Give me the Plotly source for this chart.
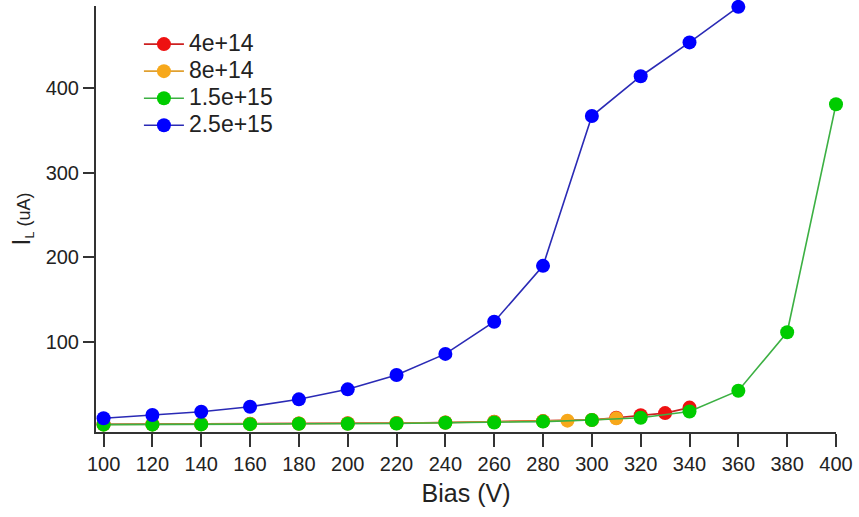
import plotly.graph_objects as go

# Bias voltage (V) for each fluence series
bias_4e14 = [100, 120, 140, 160, 180, 200, 220, 240, 260, 280, 300, 310, 320, 330, 340]
bias_8e14 = [100, 120, 140, 160, 180, 200, 220, 240, 260, 280, 290, 300, 310]
bias_1p5e15 = [100, 120, 140, 160, 180, 200, 220, 240, 260, 280, 300, 320, 340, 360, 380, 400]
bias_2p5e15 = [100, 120, 140, 160, 180, 200, 220, 240, 260, 280, 300, 320, 340, 360]

# Leakage current I_L (uA)
il_4e14 = [2.8, 2.9, 3.1, 3.4, 3.8, 4.0, 4.3, 5.0, 5.8, 6.6, 8.0, 10.6, 13.5, 16.0, 22.5]
il_8e14 = [2.6, 2.7, 2.9, 3.2, 3.6, 3.8, 4.1, 4.8, 5.6, 6.4, 7.1, 7.8, 9.8]
il_1p5e15 = [2.4, 2.4, 2.7, 3.0, 3.5, 3.5, 3.7, 4.7, 5.0, 6.0, 7.8, 10.5, 18.0, 42.5, 111.5, 381]
il_2p5e15 = [9.9, 13.8, 17.7, 23.6, 32.3, 44.1, 61, 86, 124, 190, 367, 414, 454, 496]

series = [
    ("4e+14", bias_4e14, il_4e14, "#ee1111", "#cc2020"),
    ("8e+14", bias_8e14, il_8e14, "#f7a81b", "#e0a030"),
    ("1.5e+15", bias_1p5e15, il_1p5e15, "#00cc00", "#3cb043"),
    ("2.5e+15", bias_2p5e15, il_2p5e15, "#0000ff", "#2a2ab5"),
]

font_family = "Liberation Sans, Arial, sans-serif"
ink = "#222222"

fig = go.Figure()
for name, x, y, mcolor, lcolor in series:
    fig.add_trace(go.Scatter(
        x=x, y=y, mode="lines+markers",
        # legend rows are spaced by the legend font; entry text drawn larger
        name=f"<span style='font-size:23px'>{name}</span>",
        line=dict(color=lcolor, width=1.6),
        marker=dict(color=mcolor, size=14),
        cliponaxis=False,
    ))

fig.update_layout(
    width=859, height=517,
    margin=dict(l=96, r=20, t=6, b=85),
    paper_bgcolor="white", plot_bgcolor="white",
    font=dict(family=font_family, color=ink, size=20),
    showlegend=True,
    legend=dict(
        x=0.058, y=0.954, xanchor="left", yanchor="top",
        font=dict(size=18.5, color=ink),
        bgcolor="rgba(0,0,0,0)", itemwidth=40, tracegroupgap=0,
    ),
    xaxis=dict(
        range=[96.9, 400],
        tickvals=list(range(100, 401, 20)),
        showgrid=False, zeroline=False,
        showline=True, linecolor="#333333", linewidth=2,
        ticks="outside", ticklen=13, tickwidth=2, tickcolor="#333333",
        tickfont=dict(size=20),
        title=dict(text="Bias (V)", font=dict(size=25), standoff=10),
    ),
    yaxis=dict(
        range=[-6.3, 497],
        tickvals=[100, 200, 300, 400],
        showgrid=False, zeroline=False,
        showline=True, linecolor="#333333", linewidth=2,
        ticks="outside", ticklen=11, tickwidth=2, tickcolor="#333333",
        tickfont=dict(size=20),
        title=dict(text="<span style='font-size:26px'>I</span><sub>L</sub> (uA)",
                   font=dict(size=18), standoff=10),
    ),
)

fig.write_html("out.html")
